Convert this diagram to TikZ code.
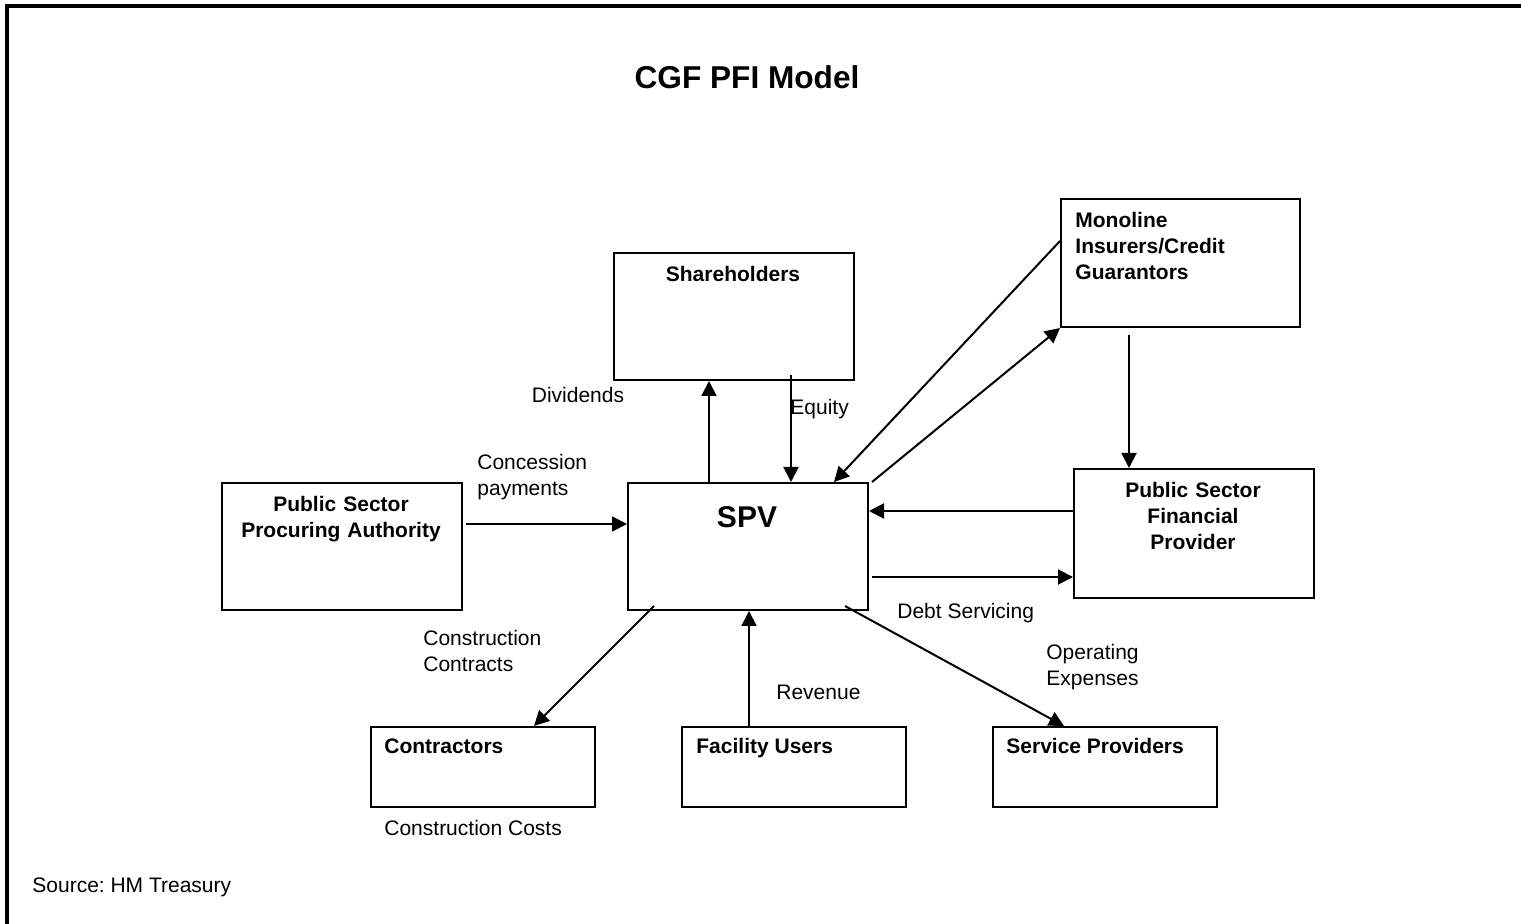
\documentclass[tikz,border=0pt]{standalone}
\usepackage{fontspec}
\setmainfont{Liberation Sans}
\usetikzlibrary{arrows.meta}
\frenchspacing
\begin{document}
\begin{tikzpicture}[x=0.5pt,y=-0.5pt,
  box/.style={draw,line width=1pt,inner sep=0pt,anchor=north west},
  wide/.style={box,minimum width=120pt,minimum height=63.5pt},
  low/.style={box,minimum width=112pt,minimum height=40pt},
  flow/.style={line width=1pt,-{Triangle[length=7.5pt,width=7.5pt]}},
  lbl/.style={inner sep=0pt,font=\fontsize{10.5}{13}\selectfont},
  head/.style={lbl,font=\fontsize{10.5}{13}\selectfont\bfseries},
  multi/.style={text width=#1,align=left}]
\useasboundingbox (0,0) rectangle (1521,924);
% page frame
\draw[line width=1.8pt] (7,924) -- (7,6) -- (1521,6);

% title
\node[inner sep=0pt,anchor=base,font=\fontsize{15.8}{19}\selectfont\bfseries] (title) at (747,89) {CGF PFI Model};

% boxes
\node[wide] (sh) at (613,252) {};
\node[box,minimum width=119.5pt,minimum height=64pt] (mono) at (1060,198) {};
\node[wide] (spv) at (627,482) {};
\node[wide] (pspa) at (221,482) {};
\node[box,minimum width=120pt,minimum height=64.5pt] (psfp) at (1073,468) {};
\node[low] (con) at (370,726) {};
\node[low] (fac) at (681,726) {};
\node[low] (sp) at (992,726) {};

% box titles
\node[head,anchor=base] (shT) at (733,281.5) {Shareholders};
\node[head,anchor=base west,multi=110pt] (monoT) at (1075,227.5) {Monoline\\Insurers/Credit\\Guarantors};
\node[inner sep=0pt,anchor=base,font=\fontsize{15}{18}\selectfont\bfseries] (spvT) at (747,528) {SPV};
\node[head,anchor=base,multi=115pt,align=center] (pspaT) at (341,511.5) {Public Sector\\Procuring Authority};
\node[head,anchor=base,multi=115pt,align=center] (psfpT) at (1193,497.5) {Public Sector\\Financial\\Provider};
\node[head,anchor=base west] (conT) at (384,753.5) {Contractors};
\node[head,anchor=base west] (facT) at (696,753.5) {Facility Users};
\node[head,anchor=base west] (spT) at (1006,753.5) {Service Providers};

% flow labels
\node[lbl,anchor=base] (ldiv) at (578,402.5) {Dividends};
\node[lbl,anchor=base west] (leq) at (790,415) {Equity};
\node[lbl,anchor=base west,multi=70pt] (lcon) at (477,469.5) {Concession\\payments};
\node[lbl,anchor=base west,multi=70pt] (lcc) at (423,645.5) {Construction\\Contracts};
\node[lbl,anchor=base west] (lrev) at (776,699.5) {Revenue};
\node[lbl,anchor=base west] (ldebt) at (897,618.5) {Debt Servicing};
\node[lbl,anchor=base west,multi=70pt] (lop) at (1046,659.5) {Operating\\Expenses};
\node[lbl,anchor=base west] (lcost) at (384,835.5) {Construction Costs};
\node[lbl,anchor=base west] (src) at (32,892.5) {Source: HM Treasury};

% flows
\draw[flow] ([xshift=-19.5pt]spv.north) coordinate (d0) -- (d0 |- sh.south);
\draw[flow] ([xshift=28.5pt,yshift=3pt]sh.south) coordinate (e0) -- (e0 |- spv.north);
\draw[flow] ([yshift=11pt]mono.west) -- ([xshift=43pt]spv.north);
\draw[flow] ([xshift=1.5pt]spv.north east) -- (mono.south west);
\draw[flow] ([xshift=-25.75pt,yshift=-3.5pt]mono.south) coordinate (m0) -- (m0 |- psfp.north);
\draw[flow] ([yshift=11.25pt]psfp.west) coordinate (p0) -- (p0 -| spv.east);
\draw[flow] ([xshift=1.5pt,yshift=-15.25pt]spv.east) coordinate (p1) -- (p1 -| psfp.west);
\draw[flow] ([xshift=1.5pt,yshift=11.25pt]pspa.east) coordinate (a0) -- (a0 -| spv.west);
\draw[flow] ([xshift=13.5pt,yshift=2.5pt]spv.south west) -- ([xshift=25.5pt]con.north);
\draw[flow] ([xshift=-22.5pt]fac.north) coordinate (f0) -- (f0 |- spv.south);
\draw[flow] ([xshift=-12pt,yshift=2.5pt]spv.south east) -- ([xshift=-20.5pt]sp.north);
\end{tikzpicture}
\end{document}
